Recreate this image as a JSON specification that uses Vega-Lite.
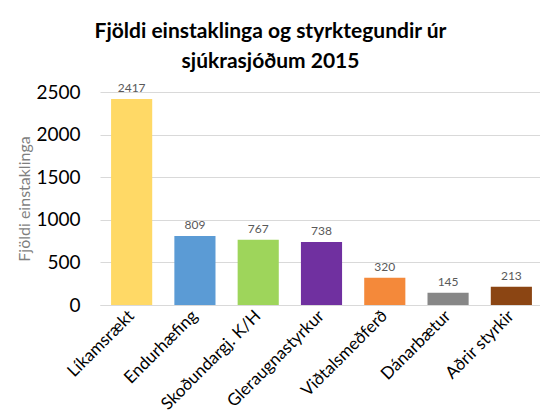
{
  "$schema": "https://vega.github.io/schema/vega-lite/v6.json",
  "autosize": {"type": "none"},
  "padding": {"left": 100, "top": 92, "right": 0, "bottom": 114},
  "width": 443,
  "height": 213,
  "background": "white",
  "title": {
    "text": ["Fjöldi einstaklinga og styrktegundir úr", "sjúkrasjóðum 2015"],
    "font": "Lato",
    "fontSize": 21,
    "fontWeight": "bold",
    "color": "#000000",
    "anchor": "middle",
    "frame": "group",
    "dx": -51,
    "offset": 10,
    "lineHeight": 30
  },
  "data": {
    "values": [
      {"flokkur": "Líkamsrækt", "fjoldi": 2417},
      {"flokkur": "Endurhæfing", "fjoldi": 809},
      {"flokkur": "Skoðundargj. K/H", "fjoldi": 767},
      {"flokkur": "Gleraugnastyrkur", "fjoldi": 738},
      {"flokkur": "Viðtalsmeðferð", "fjoldi": 320},
      {"flokkur": "Dánarbætur", "fjoldi": 145},
      {"flokkur": "Aðrir styrkir", "fjoldi": 213}
    ]
  },
  "encoding": {
    "x": {
      "field": "flokkur",
      "type": "nominal",
      "sort": null,
      "scale": {"paddingInner": 0.35, "paddingOuter": 0.175},
      "axis": {
        "title": null,
        "labelAngle": -45,
        "labelAlign": "right",
        "labelBaseline": "middle",
        "labelFont": "Lato",
        "labelFontSize": 17,
        "labelColor": "#000000",
        "labelPadding": 8,
        "ticks": false,
        "domainColor": "#d9d9d9",
        "labelOverlap": false
      }
    },
    "y": {
      "field": "fjoldi",
      "type": "quantitative",
      "scale": {"domain": [0, 2500]},
      "axis": {
        "title": "Fjöldi einstaklinga",
        "titleFont": "Lato",
        "titleFontSize": 16,
        "titleFontWeight": "normal",
        "titleColor": "#7f7f7f",
        "titlePadding": 3,
        "values": [0, 500, 1000, 1500, 2000, 2500],
        "format": "d",
        "labelFont": "Lato",
        "labelFontSize": 19,
        "labelColor": "#000000",
        "labelPadding": 20,
        "ticks": false,
        "domain": false,
        "gridColor": "#d9d9d9"
      }
    }
  },
  "layer": [
    {
      "mark": {"type": "bar"},
      "encoding": {
        "color": {
          "field": "flokkur",
          "type": "nominal",
          "sort": null,
          "scale": {
            "domain": ["Líkamsrækt", "Endurhæfing", "Skoðundargj. K/H", "Gleraugnastyrkur", "Viðtalsmeðferð", "Dánarbætur", "Aðrir styrkir"],
            "range": ["#FFD966", "#5B9BD5", "#9ED55B", "#7030A0", "#F4893A", "#878787", "#8B4513"]
          },
          "legend": null
        }
      }
    },
    {
      "mark": {"type": "text", "dy": -11, "font": "Lato", "fontSize": 12, "color": "#595959"},
      "encoding": {"text": {"field": "fjoldi", "type": "quantitative"}}
    }
  ],
  "config": {"view": {"stroke": null}}
}
